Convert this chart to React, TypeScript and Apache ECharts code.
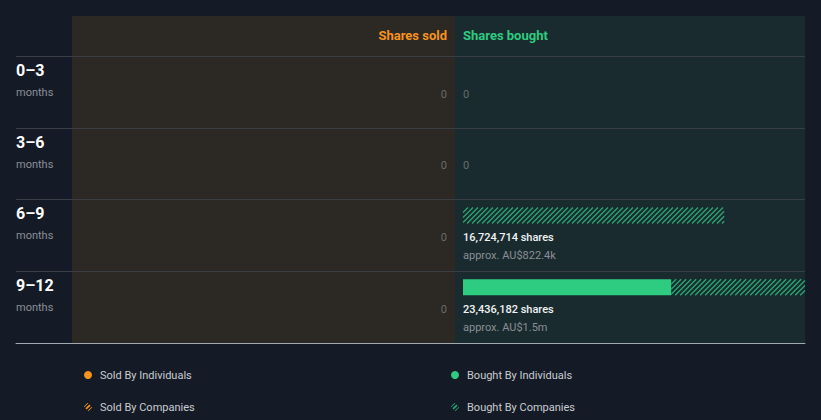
import React, { useEffect, useRef } from 'react';
import * as echarts from 'echarts';

const categories = ['0–3', '3–6', '6–9', '9–12'];
const rowUnit = 'months';
const soldIndividuals = [0, 0, 0, 0];
const soldCompanies = [0, 0, 0, 0];
const soldShares = [0, 0, 0, 0];
const soldValue = ['', '', '', ''];
const boughtIndividuals = [0, 0, 0, 13330000];
const boughtCompanies = [0, 0, 16724714, 10106182];
const boughtShares = [0, 0, 16724714, 23436182];
const boughtValue = ['', '', 'AU$822.4k', 'AU$1.5m'];
const axisMax = 21900000;

const BG = '#151b26';
const SOLD_BG = '#2c2823';
const BOUGHT_BG = '#192b2f';
const ORANGE = '#f7931e';
const GREEN = '#2ecc80';
const HATCH_GREEN = '#2aa872';
const HATCH_ORANGE = '#d98219';
const FONT = 'Roboto, sans-serif';

const HATCH_ICON =
  'path://M2,6.6L6.6,2L8,3.4L3.4,8Z M0.3,4.3L4.3,0.3L5.4,0.6L0.6,5.4Z M4.6,9.4L9.4,4.6L9.7,5.7L5.7,9.7Z';

function hatchLines(xa: number, xb: number, ya: number, yb: number, color: string) {
  const h = yb - ya;
  const step = 5;
  const children: any[] = [];
  if (xb - xa <= 0) return children;
  for (let c = xa - h; c < xb; c += step) {
    const t0 = Math.max(0, (xa - c) / h);
    const t1 = Math.min(1, (xb - c) / h);
    if (t1 <= t0) continue;
    children.push({
      type: 'line',
      shape: { x1: c + t0 * h, y1: yb - t0 * h, x2: c + t1 * h, y2: yb - t1 * h },
      style: { stroke: color, lineWidth: 1.3 },
    });
  }
  return children;
}

function bandTop(api: any, idx: number) {
  const c = api.coord([0, idx]);
  const band = api.size([0, 1])[1];
  return c[1] - band / 2;
}

function solidSeries(name: string, grid: number, values: number[], color: string) {
  return {
    name,
    type: 'custom',
    xAxisIndex: grid,
    yAxisIndex: grid,
    silent: true,
    itemStyle: { color },
    encode: { x: 1, y: 0 },
    data: values.map((v, i) => [i, v]),
    renderItem: (params: any, api: any) => {
      const idx = api.value(0);
      const v = api.value(1);
      if (!(v > 0)) return { type: 'group', children: [] };
      const s = api.coord([0, idx])[0];
      const e = api.coord([v, idx])[0];
      const cs = params.coordSys;
      const lo = Math.max(Math.min(s, e), cs.x);
      const hi = Math.min(Math.max(s, e), cs.x + cs.width);
      const top = bandTop(api, idx) + 8;
      return {
        type: 'rect',
        shape: { x: lo, y: top, width: hi - lo, height: 16 },
        style: { fill: color },
      };
    },
  };
}

function hatchSeries(name: string, grid: number, base: number[], values: number[], color: string, iconColor: string) {
  return {
    name,
    type: 'custom',
    xAxisIndex: grid,
    yAxisIndex: grid,
    silent: true,
    itemStyle: { color: iconColor },
    encode: { x: 2, y: 0 },
    data: values.map((v, i) => [i, base[i], v]),
    renderItem: (params: any, api: any) => {
      const idx = api.value(0);
      const b = api.value(1);
      const v = api.value(2);
      if (!(v > 0)) return { type: 'group', children: [] };
      const s = api.coord([b, idx])[0];
      const e = api.coord([b + v, idx])[0];
      const cs = params.coordSys;
      const lo = Math.max(Math.min(s, e), cs.x);
      const hi = Math.min(Math.max(s, e), cs.x + cs.width);
      const top = bandTop(api, idx) + 8;
      return { type: 'group', children: hatchLines(lo, hi, top, top + 16, color) };
    },
  };
}

function labelSeries(name: string, grid: number, shares: number[], values: string[], align: string) {
  return {
    name,
    type: 'custom',
    xAxisIndex: grid,
    yAxisIndex: grid,
    silent: true,
    encode: { x: 1, y: 0 },
    data: shares.map((v, i) => [i, v]),
    renderItem: (params: any, api: any) => {
      const idx = api.value(0);
      const v = api.value(1);
      const x = api.coord([0, idx])[0];
      const top = bandTop(api, idx);
      if (!(v > 0)) {
        return {
          type: 'text',
          x,
          y: top + 38,
          style: {
            text: '0',
            fill: '#676b6f',
            fontSize: 11,
            fontFamily: FONT,
            align,
            verticalAlign: 'middle',
          },
        };
      }
      return {
        type: 'group',
        children: [
          {
            type: 'text',
            x,
            y: top + 38,
            style: {
              text: v.toLocaleString('en-US') + ' shares',
              fill: '#f2f3f4',
              fontSize: 11,
              fontWeight: 500,
              fontFamily: FONT,
              align,
              verticalAlign: 'middle',
            },
          },
          {
            type: 'text',
            x,
            y: top + 56,
            style: {
              text: 'approx. ' + values[idx],
              fill: '#8a8f95',
              fontSize: 11,
              fontFamily: FONT,
              align,
              verticalAlign: 'middle',
            },
          },
        ],
      };
    },
  };
}

export default function App() {
  const ref = useRef<HTMLDivElement>(null);
  useEffect(() => {
    if (!ref.current) return;
    const chart = echarts.init(ref.current, null, { renderer: 'svg' });
    const legendText = { color: '#c9ccd1', fontSize: 11, fontFamily: FONT, lineHeight: 14 };
    chart.setOption({
      animation: false,
      backgroundColor: BG,
      graphic: [
        { type: 'rect', z: -10, shape: { x: 72, y: 16, width: 383, height: 327 }, style: { fill: SOLD_BG } },
        { type: 'rect', z: -10, shape: { x: 455, y: 16, width: 350, height: 327 }, style: { fill: BOUGHT_BG } },
        {
          type: 'text',
          x: 447,
          y: 35,
          style: { text: 'Shares sold', fill: ORANGE, fontSize: 13, fontWeight: 'bold', fontFamily: FONT, align: 'right', verticalAlign: 'middle' },
        },
        {
          type: 'text',
          x: 463,
          y: 35,
          style: { text: 'Shares bought', fill: GREEN, fontSize: 13, fontWeight: 'bold', fontFamily: FONT, align: 'left', verticalAlign: 'middle' },
        },
      ],
      grid: [
        { left: 16, right: 16, top: 56, bottom: 77 },
        { left: 72, width: 375, top: 56, bottom: 77 },
        { left: 463, right: 16, top: 56, bottom: 77 },
      ],
      xAxis: [
        {
          gridIndex: 0,
          type: 'value',
          min: 0,
          max: 1,
          z: 5,
          axisLine: { show: true, lineStyle: { color: '#a3a9b0', width: 1 } },
          axisTick: { show: false },
          axisLabel: { show: false },
          splitLine: { show: false },
        },
        { gridIndex: 1, type: 'value', inverse: true, min: 0, max: axisMax, show: false },
        { gridIndex: 2, type: 'value', min: 0, max: axisMax, show: false },
      ],
      yAxis: [
        {
          gridIndex: 0,
          type: 'category',
          data: categories,
          inverse: true,
          axisLine: { show: false },
          axisTick: { show: false },
          splitLine: { show: true, interval: 0, lineStyle: { color: '#393e44', width: 1 } },
          axisLabel: {
            inside: true,
            margin: 0,
            interval: 0,
            align: 'left',
            padding: [0, 0, 21, 0],
            formatter: (v: string) => `{a|${v}}\n{b|${rowUnit}}`,
            rich: {
              a: { fontSize: 16, fontWeight: 'bold', color: '#ffffff', lineHeight: 22, fontFamily: FONT },
              b: { fontSize: 11, color: '#8a8f95', lineHeight: 22, fontFamily: FONT },
            },
          },
        },
        { gridIndex: 1, type: 'category', data: categories, inverse: true, show: false },
        { gridIndex: 2, type: 'category', data: categories, inverse: true, show: false },
      ],
      legend: [
        {
          orient: 'vertical',
          left: 84,
          top: 368,
          padding: 0,
          itemWidth: 14,
          itemHeight: 8,
          itemGap: 18,
          selectedMode: false,
          textStyle: legendText,
          data: [
            { name: 'Sold By Individuals', icon: 'circle', itemStyle: { color: ORANGE } },
            { name: 'Sold By Companies', icon: HATCH_ICON, itemStyle: { color: ORANGE } },
          ],
        },
        {
          orient: 'vertical',
          left: 451,
          top: 368,
          padding: 0,
          itemWidth: 14,
          itemHeight: 8,
          itemGap: 18,
          selectedMode: false,
          textStyle: legendText,
          data: [
            { name: 'Bought By Individuals', icon: 'circle', itemStyle: { color: GREEN } },
            { name: 'Bought By Companies', icon: HATCH_ICON, itemStyle: { color: HATCH_GREEN } },
          ],
        },
      ],
      series: [
        solidSeries('Sold By Individuals', 1, soldIndividuals, ORANGE),
        hatchSeries('Sold By Companies', 1, soldIndividuals, soldCompanies, HATCH_ORANGE, ORANGE),
        labelSeries('Sold labels', 1, soldShares, soldValue, 'right'),
        solidSeries('Bought By Individuals', 2, boughtIndividuals, GREEN),
        hatchSeries('Bought By Companies', 2, boughtIndividuals, boughtCompanies, HATCH_GREEN, HATCH_GREEN),
        labelSeries('Bought labels', 2, boughtShares, boughtValue, 'left'),
      ],
    });
    return () => chart.dispose();
  }, []);
  return (
    <div
      ref={ref}
      style={{ position: 'fixed', left: 0, top: 0, width: 821, height: 420 }}
    />
  );
}
